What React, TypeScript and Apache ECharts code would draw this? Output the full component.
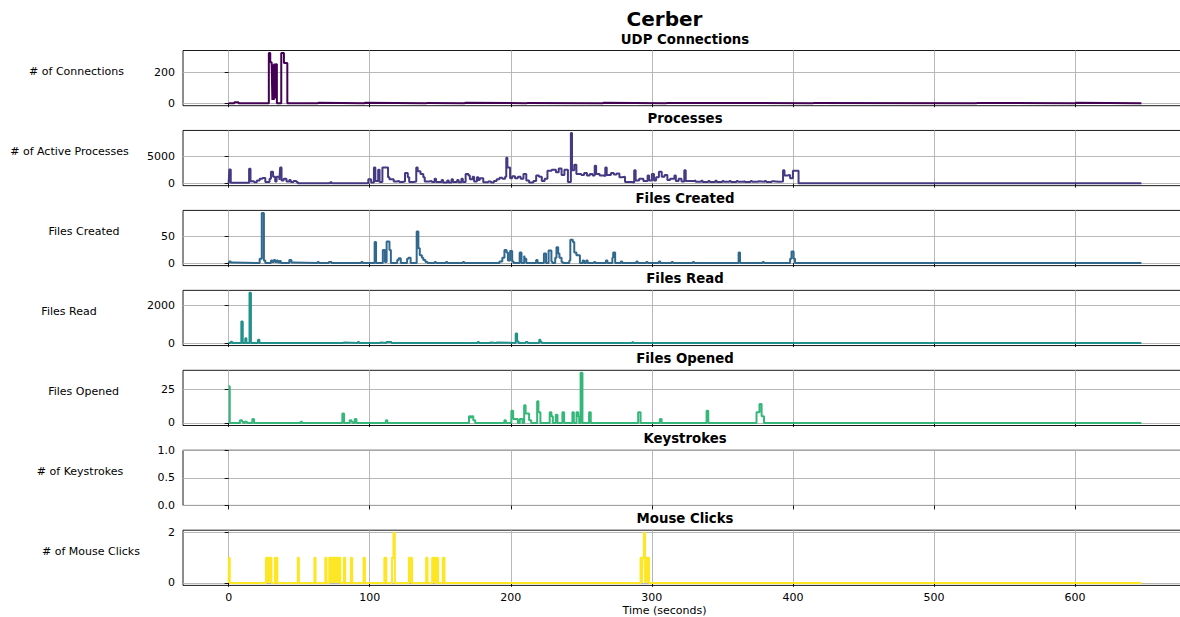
import React, { useEffect, useRef } from "react";
import * as echarts from "echarts";

// Each series is a list of [time (s), value] change points, drawn as a step line:
// the value holds from its time until the next change point.
const udpConnections: [number, number][] = [
  [0, 0], [4, 6], [7, 0], [28.5, 322], [29.5, 262], [30.5, 240], [31, 20], [31.5, 250],
  [32, 20], [32.5, 255], [33, 30], [33.5, 250], [34.2, 0], [37.3, 322], [39.2, 258],
  [41.6, 0], [63, 3], [64, 0], [96, 3], [97, 0], [140, 2], [141, 0], [167, 3], [168, 0],
  [211, 2], [212, 0], [265, 3], [266, 0], [310, 2], [311, 0], [414, 2], [415, 0],
  [530, 2], [531, 0], [600, 3], [601, 0], [647, 0],
];

const activeProcesses: [number, number][] = [
  [0, 100], [0.5, 2650], [1.5, 150], [14.5, 2780], [15.5, 400], [16, 450], [18, 250],
  [20, 600], [22, 900], [24, 1050], [26, 300], [29, 900], [30, 2200], [31.5, 1300],
  [33, 400], [34, 1300], [36, 700], [36.5, 3000], [37.5, 600], [39, 900], [41, 400],
  [43, 700], [44, 300], [46, 500], [48, 300], [49, 100], [72, 250], [73, 100],
  [99, 800], [101, 200], [103, 3000], [104, 500], [106, 2600], [107, 300], [109, 3000],
  [113, 1200], [114, 800], [117, 400], [119, 500], [121, 300], [123, 400], [125, 2000],
  [127, 1200], [128, 300], [131, 400], [133, 3000], [134, 2300], [136, 1800], [138, 1200],
  [139, 400], [142, 500], [144, 300], [146, 900], [147, 300], [151, 700], [152, 200],
  [155, 600], [156, 200], [158, 800], [159, 300], [162, 700], [163, 250], [165, 900],
  [166, 300], [168, 1800], [170, 1500], [171, 800], [173, 1300], [174, 400], [176, 1200],
  [177, 700], [178, 1000], [180.5, 250], [184, 400], [186, 200], [188, 500], [190, 800],
  [192, 1100], [194, 900], [196, 1300], [196.8, 4800], [197.6, 3000], [199.5, 1000],
  [201, 1400], [203, 1000], [205, 1300], [207, 900], [209, 1800], [211, 600], [213, 200],
  [216, 500], [218, 1500], [220, 1300], [222, 500], [224, 900], [226, 2400], [229, 2600],
  [232, 2100], [234, 2800], [236, 1600], [238, 2600], [240.5, 300], [242.6, 9400],
  [243.4, 2500], [245, 3500], [246.5, 1800], [250, 1600], [252, 2000], [254, 1500],
  [256, 1800], [258, 1500], [259.5, 3300], [260.5, 1800], [263, 1500], [266, 1400],
  [267, 3000], [268, 1600], [271, 2000], [273, 1700], [275, 1900], [277, 1200],
  [279, 1300], [281, 300], [286, 200], [287.5, 2500], [288.5, 600], [291, 900], [294, 500],
  [297, 1500], [298, 600], [300, 1800], [301.5, 600], [303, 1200], [305, 2200],
  [307, 1300], [309, 1600], [311, 700], [313, 900], [316, 1500], [317, 500], [319, 900],
  [321, 400], [323, 2500], [324, 500], [330, 600], [331, 350], [335, 550], [336, 300],
  [340, 500], [341, 300], [345, 550], [346, 300], [350, 500], [351, 350], [355, 500],
  [356, 300], [360, 500], [361, 350], [365, 450], [366, 300], [370, 500], [371, 350],
  [375, 450], [376, 350], [380, 500], [381, 300], [385, 450], [386, 350], [390, 400],
  [393, 2500], [394, 1500], [396, 1600], [398, 1000], [400, 2400], [403, 2400],
  [404, 100], [647, 100],
];

const filesCreated: [number, number][] = [
  [0, 0], [0.5, 3], [1.5, 1], [3, 0], [22, 8], [23.5, 95], [25, 5], [26, 0], [30, 5],
  [31, 2], [32, 6], [33, 2], [34, 5], [35, 1], [36, 4], [37, 0], [43, 6], [44.5, 1],
  [45.5, 0], [63, 2], [64, 0], [71, 2], [73, 0], [94, 2], [95, 0], [103.5, 40],
  [104.5, 0], [109.3, 25], [110.8, 2], [112, 41], [114, 25], [115, 0], [119.5, 6],
  [120.5, 9], [122, 0], [126.5, 8], [127.5, 10], [129, 0], [133.3, 60], [134.5, 28],
  [135.5, 15], [137, 10], [138, 6], [139.5, 2], [141, 0], [146, 2], [147, 0], [154, 2],
  [155, 0], [166, 2], [167, 0], [192, 3], [194, 10], [195.5, 25], [197, 20], [198, 5],
  [199.5, 23], [201, 3], [202, 0], [206.3, 20], [207.6, 0], [209.5, 14], [210, 8],
  [211, 0], [218, 6], [219, 0], [223.5, 18], [225, 0], [226.8, 24], [228.8, 3],
  [229.5, 0], [231.5, 10], [232.4, 30], [233.6, 18], [234.5, 10], [236, 2], [237, 0],
  [241.5, 5], [242.2, 44], [244, 40], [245, 20], [246.5, 15], [249, 0], [251, 5],
  [252, 0], [253.5, 5], [254.5, 0], [259, 2], [260, 0], [267.5, 5], [268.5, 0],
  [272, 10], [272.6, 20], [274, 0], [278, 3], [279, 0], [289, 3], [290, 0], [296, 2],
  [297, 0], [305, 3], [306, 0], [314, 2], [315, 0], [329, 2], [330, 0], [361.5, 20],
  [362.5, 0], [378.5, 2], [379.5, 0], [398, 8], [399, 22], [400.5, 8], [401.5, 0],
  [647, 0],
];

const filesRead: [number, number][] = [
  [0, 0], [1.5, 70], [2.5, 0], [9, 1140], [10, 0], [11.8, 250], [12.6, 0], [14.8, 2660],
  [15.8, 0], [20.8, 180], [21.8, 0], [81, 30], [82, 0], [91.5, 50], [92.5, 0],
  [107, 30], [108, 0], [111.8, 60], [115.4, 0], [176.5, 50], [177.5, 0], [185, 30],
  [186, 0], [189.5, 30], [190.5, 0], [203.5, 500], [204.5, 80], [205.5, 0], [210.5, 50],
  [212, 0], [220.2, 180], [221, 60], [222, 0], [286, 40], [287, 0], [647, 0],
];

const filesOpened: [number, number][] = [
  [0, 27], [0.8, 0], [8, 2], [9.5, 1], [10.5, 0], [11.5, 1], [13, 0], [16.8, 3], [18, 0],
  [51, 1], [52, 0], [80.6, 7], [81.8, 0], [85.8, 2], [87, 1], [88, 0], [89.4, 3],
  [90.6, 0], [111.5, 2], [112.5, 0], [170.4, 5], [171.4, 4], [172.2, 5], [173.4, 2],
  [174.8, 0], [195.5, 2], [196.5, 0], [200.4, 9], [201.7, 3], [205, 0], [206.4, 3],
  [208.3, 0], [209.5, 13], [210.5, 7], [213, 2], [214.5, 0], [218.7, 16], [219.6, 8],
  [221, 0], [227.6, 8], [228.8, 5], [229.8, 0], [231.9, 6], [233.1, 0], [236.6, 8],
  [237.8, 0], [243.7, 8], [244.7, 0], [246.6, 8], [247.8, 5], [248.5, 0], [249.5, 37],
  [250.8, 0], [255.5, 8], [256.7, 0], [290.3, 8], [292, 0], [305.7, 3], [306.9, 0],
  [338.8, 9], [340, 0], [374.2, 8], [376.3, 14], [377.8, 5], [379.5, 0], [647, 0],
];

const keystrokes: [number, number][] = [];

const mouseClicks: [number, number][] = [
  [0, 0], [0.2, 1], [0.8, 0], [26.5, 1], [27.5, 0], [27.9, 1], [28.9, 0], [29.4, 1],
  [30.4, 0], [32.8, 1], [33.6, 0], [33.9, 1], [34.5, 0], [49, 1], [49.8, 0], [60.8, 1],
  [61.6, 0], [68.5, 1], [69.4, 0], [71.3, 1], [72, 0], [72.5, 1], [73.3, 0], [73.7, 1],
  [74.5, 0], [74.9, 1], [75.7, 0], [76.1, 1], [76.9, 0], [77.3, 1], [78.1, 0], [78.4, 1],
  [79.1, 0], [81.6, 1], [82.6, 0], [86.6, 1], [87.6, 0], [95.6, 1], [96.6, 0],
  [110.4, 1], [111.8, 0], [115.8, 1], [116.8, 2], [117.8, 0], [127.8, 1], [128.8, 0],
  [129.1, 1], [130, 0], [140, 1], [141, 0], [144.3, 1], [145, 0], [145.5, 1],
  [146.5, 0], [147.5, 1], [148.5, 0], [151.8, 1], [153, 0], [292, 1], [293, 0],
  [293.4, 1], [294.3, 2], [295.2, 0], [295.6, 1], [296.6, 0], [297, 1], [298, 0],
  [647, 0],
];

const figureTitle = "Cerber";
const xAxisTitle = "Time (seconds)";
const panelTitles = [
  "UDP Connections", "Processes", "Files Created", "Files Read",
  "Files Opened", "Keystrokes", "Mouse Clicks",
];
const panelYLabels = [
  "# of Connections", "# of Active Processes", "Files Created", "Files Read",
  "Files Opened", "# of Keystrokes", "# of Mouse Clicks",
];
const panelYTicks = [[0, 200], [0, 5000], [0, 50], [0, 2000], [0, 25], [0, 0.5, 1], [0, 2]];
const xTicks = [0, 100, 200, 300, 400, 500, 600];
const panelSeries = [
  udpConnections, activeProcesses, filesCreated, filesRead, filesOpened, keystrokes, mouseClicks,
];
const panelColors = ["#440154", "#443983", "#31688e", "#21918c", "#35b779", "#90d743", "#fde725"];

const FONT = "DejaVu Sans";
const VIEW_W = 1180;
const VIEW_H = 617;
// the figure is a little wider than the visible page; its right edge is cut off
const CANVAS_W = 1200;
const PLOT_LEFT = 183;
const PLOT_WIDTH = 1004;
const PANEL_TOP0 = 50.5;
const PANEL_STEP = 79.95;
const PANEL_HEIGHT = 55.2;
const Y_LABEL_CENTERS = [76.5, 69.5, 84, 69, 83.5, 80, 91];

// matplotlib-style auto limits: data range padded by 5% on each side
function paddedRange(values: number[], fallback: [number, number]): [number, number] {
  if (!values.length) return fallback;
  const lo = Math.min(...values);
  const hi = Math.max(...values);
  const pad = (hi - lo) * 0.05;
  return [lo - pad, hi + pad];
}

function textEl(text: string, x: number, y: number, fontSize: number, bold = false) {
  return {
    type: "text",
    x,
    y,
    silent: true,
    style: {
      text,
      x: 0,
      y: 0,
      textAlign: "center",
      align: "center",
      textVerticalAlign: "middle",
      verticalAlign: "middle",
      fontSize,
      fontWeight: bold ? "bold" : "normal",
      fontFamily: FONT,
      fill: "#000",
    },
  };
}

export default function App() {
  const ref = useRef<HTMLDivElement>(null);

  useEffect(() => {
    if (!ref.current) return;
    const chart = echarts.init(ref.current, undefined, { renderer: "svg" });

    const allTimes = panelSeries.flatMap((s) => s.map((d) => d[0]));
    const [xMin, xMax] = paddedRange(allTimes, [0, 1]);

    const grids: any[] = [];
    const xAxes: any[] = [];
    const yAxes: any[] = [];
    const series: any[] = [];
    const graphics: any[] = [];

    panelSeries.forEach((data, i) => {
      const top = PANEL_TOP0 + PANEL_STEP * i;
      const isLast = i === panelSeries.length - 1;
      const [yMin, yMax] = paddedRange(data.map((d) => d[1]), [0, 1]);
      const yTicks = panelYTicks[i];
      const decimals = yTicks.some((v) => !Number.isInteger(v)) ? 1 : 0;

      grids.push({
        left: PLOT_LEFT,
        top,
        width: PLOT_WIDTH,
        height: PANEL_HEIGHT,
        show: true,
        borderColor: "#000",
        borderWidth: 0.9,
        backgroundColor: "transparent",
        containLabel: false,
      });

      xAxes.push({
        type: "value",
        gridIndex: i,
        min: xMin,
        max: xMax,
        axisLine: { show: false },
        axisTick: {
          show: true,
          inside: false,
          length: 4,
          customValues: xTicks,
          lineStyle: { color: "#000", width: 0.9 },
        },
        axisLabel: {
          show: isLast,
          customValues: xTicks,
          margin: 7,
          fontSize: 11,
          fontFamily: FONT,
          color: "#000",
          formatter: (v: number) => String(v),
        },
        splitLine: { show: true, lineStyle: { color: "#b0b0b0", width: 0.9 } },
      });

      yAxes.push({
        type: "value",
        gridIndex: i,
        min: yMin,
        max: yMax,
        axisLine: { show: false },
        axisTick: {
          show: true,
          inside: false,
          length: 4,
          customValues: yTicks,
          lineStyle: { color: "#000", width: 0.9 },
        },
        axisLabel: {
          show: true,
          customValues: yTicks,
          margin: 8,
          fontSize: 11,
          fontFamily: FONT,
          color: "#000",
          formatter: (v: number) => v.toFixed(decimals),
        },
        splitLine: { show: true, lineStyle: { color: "#b0b0b0", width: 0.9 } },
      });

      series.push({
        type: "line",
        xAxisIndex: i,
        yAxisIndex: i,
        data,
        step: "end",
        showSymbol: false,
        symbol: "none",
        silent: true,
        lineStyle: { color: panelColors[i], width: 2 },
        itemStyle: { color: panelColors[i] },
      });

      graphics.push(textEl(panelTitles[i], PLOT_LEFT + PLOT_WIDTH / 2, top - 11.5, 13.3, true));
      graphics.push(textEl(panelYLabels[i], Y_LABEL_CENTERS[i], top + 21, 11));
    });

    graphics.push(textEl(figureTitle, 664.5, 19, 20, true));
    graphics.push(textEl(xAxisTitle, 664.5, 610, 11));

    chart.setOption({
      animation: false,
      backgroundColor: "#ffffff",
      grid: grids,
      xAxis: xAxes,
      yAxis: yAxes,
      series,
      graphic: graphics,
    });

    return () => chart.dispose();
  }, []);

  return (
    <div
      style={{
        position: "absolute",
        left: 0,
        top: 0,
        width: VIEW_W,
        height: VIEW_H,
        overflow: "hidden",
        background: "#fff",
      }}
    >
      <div ref={ref} style={{ width: CANVAS_W, height: VIEW_H }} />
    </div>
  );
}
